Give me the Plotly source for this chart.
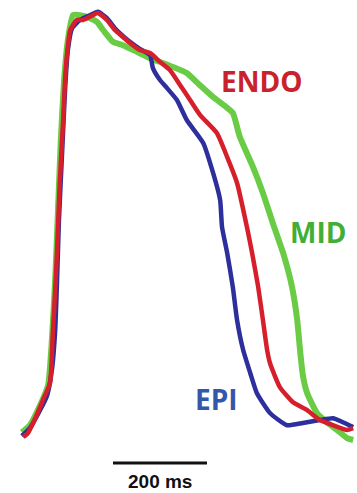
import plotly.graph_objects as go

# Action potential traces (time in ms, membrane potential in mV)
endo_t = [-74, -64, -53, -32, -17, -11, -6, -2, 4, 11, 15, 19, 26, 40, 53, 74, 85, 104, 121, 138,
          153, 174, 196, 217, 238, 260, 281, 302, 338, 360, 381, 402, 413, 426, 436, 445, 451, 472,
          500, 530, 557, 585, 615, 628]
endo_v = [-85, -83.9, -81.2, -75.0, -70.4, -56.9, -45.3, -34.5, -15.6, 0.6, 11.4, 18.1, 24.9, 27.6,
          27.6, 28.9, 29.5, 27.6, 24.9, 23.0, 21.4, 19.5, 18.7, 16.3, 14.1, 10.0, 6.0, 2.0, -2.9,
          -9.4, -16.4, -28.3, -35.3, -44.5, -53.4, -61.5, -65.0, -71.5, -75.6, -77.7, -80.4, -81.8,
          -83.1, -82.6]

epi_t = [-77, -60, -38, -23, -13, -6, -2, 2, 9, 15, 21, 30, 47, 68, 85, 104, 121, 138, 153, 174,
         196, 202, 217, 232, 253, 274, 309, 330, 345, 349, 360, 372, 381, 394, 409, 423, 451, 487,
         521, 557, 585, 606, 628]
epi_v = [-84.7, -82.6, -77.7, -73.7, -66.9, -56.1, -42.6, -26.4, -7.5, 8.7, 19.5, 25.4, 27.6, 28.9,
         29.8, 28.1, 25.4, 23.3, 21.7, 19.8, 18.1, 14.6, 11.4, 9.2, 6.0, 0.6, -5.6, -13.7, -21.0,
         -28.3, -35.3, -44.5, -53.4, -61.5, -67.7, -73.1, -78.5, -81.8, -81.2, -80.4, -79.9, -81.0,
         -82.3]

mid_t = [-77, -60, -38, -21, -13, -6, 0, 6, 13, 21, 32, 47, 68, 83, 96, 117, 138, 168, 196, 223,
         245, 274, 302, 330, 355, 372, 387, 415, 436, 457, 479, 498, 509, 515, 521, 530, 551, 572,
         594, 615, 628]
mid_v = [-83.7, -81.8, -76.4, -71.0, -58.8, -42.6, -23.7, -4.8, 11.4, 22.2, 28.9, 28.9, 28.1, 27.1,
         24.9, 21.7, 20.8, 19.0, 17.3, 16.0, 14.9, 13.3, 10.0, 6.8, 4.4, 2.5, -4.0, -12.1, -19.1,
         -27.2, -35.3, -44.5, -53.4, -61.5, -68.3, -73.1, -78.5, -81.0, -83.1, -85.3, -85.8]

# Scale bar (ms) and trace labels
bar_start, bar_len = 117, 200
bar_label = "200 ms"
labels = ["ENDO", "MID", "EPI"]
label_t = [432, 553, 338]
label_v = [11.1, -29.6, -74.7]

RED, GREEN, BLUE = "#d61f2a", "#6acb45", "#2c2f9c"
LABEL_COLORS = ["#c9222b", "#42ae36", "#3357aa"]

fig = go.Figure()
for t, v, c, w in [(mid_t, mid_v, GREEN, 6), (epi_t, epi_v, BLUE, 4.5), (endo_t, endo_v, RED, 4.5)]:
    fig.add_trace(go.Scatter(x=t, y=v, mode="lines",
                             line=dict(color=c, width=w, shape="spline", smoothing=0.5),
                             hoverinfo="skip", showlegend=False))

for txt, x, y, c in zip(labels, label_t, label_v, LABEL_COLORS):
    fig.add_annotation(x=x, y=y, text=txt, showarrow=False,
                       font=dict(family="Open Sans", size=28, color=c, weight="bold"))

bar_y = -92.0
fig.add_shape(type="line", x0=bar_start, x1=bar_start + bar_len, y0=bar_y, y1=bar_y,
              line=dict(color="#111111", width=3))
fig.add_annotation(x=bar_start + bar_len / 2, y=-97.0, text=bar_label, showarrow=False,
                   font=dict(family="Liberation Sans", size=19, color="#111111", weight="bold"))

fig.update_layout(
    width=357, height=493,
    margin=dict(l=0, r=0, t=0, b=0),
    paper_bgcolor="white", plot_bgcolor="white",
    xaxis=dict(range=[-123.4, 636.2], visible=False),
    yaxis=dict(range=[-100.1, 33.0], visible=False),
)

fig.write_html("out.html")
